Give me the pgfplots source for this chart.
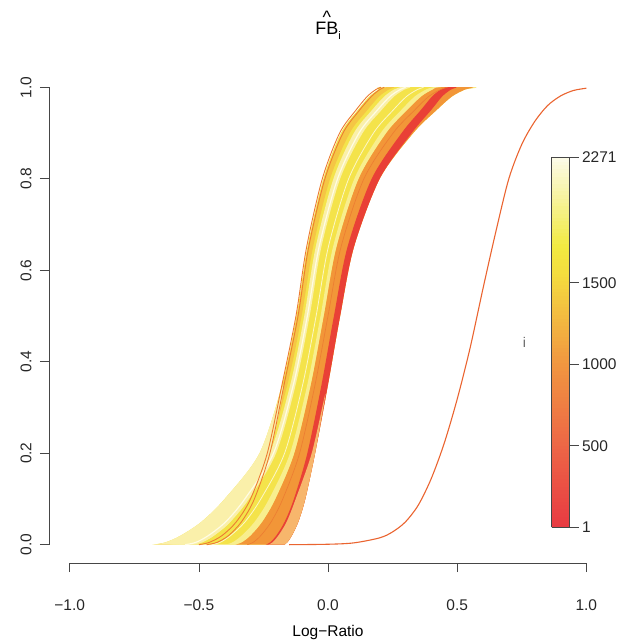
\documentclass[border=0pt]{standalone}
\usepackage{pgfplots}
\pgfplotsset{compat=1.18}
\usepackage{fontspec}
\setmainfont{Liberation Sans}
\definecolor{cBase}{RGB}{244,227,74}
\definecolor{cOY}{RGB}{245,198,68}
\definecolor{cPale}{RGB}{250,240,170}
\definecolor{cPale2}{RGB}{248,238,142}
\definecolor{cOr}{RGB}{242,150,56}
\definecolor{cRed}{RGB}{233,64,54}
\definecolor{cLOr}{RGB}{247,182,108}
\definecolor{cThin}{RGB}{236,124,50}
\definecolor{cWhite}{RGB}{255,252,228}
\definecolor{cLight}{RGB}{252,247,200}
\definecolor{cOut}{RGB}{234,100,48}
\definecolor{axgray}{RGB}{70,70,70}
\newcommand{\FBtitle}{\ooalign{FB\cr\hidewidth\raisebox{0.66em}{\char"5E}\hidewidth\cr}\raisebox{-0.25em}{\fontsize{11}{11}\selectfont i}}
\begin{document}
\begin{tikzpicture}
\path[use as bounding box] (-49pt,-78pt) rectangle (568pt,563pt);
\begin{axis}[
  at={(0pt,0pt)}, anchor=south west,
  scale only axis, width=558pt, height=494pt,
  xmin=-1.08, xmax=1.08, ymin=-0.04, ymax=1.04,
  axis x line*=bottom, axis y line*=left,
  axis line style={-, axgray, line width=0.6pt},
  x axis line style={shorten <=20.67pt, shorten >=20.67pt},
  y axis line style={shorten <=18.3pt, shorten >=18.3pt},
  tick align=outside, major tick length=9pt,
  tick style={axgray, line width=0.6pt},
  xtick={-1,-0.5,0,0.5,1},
  xticklabels={−1.0,−0.5,0.0,0.5,1.0},
  ytick={0,0.2,0.4,0.6,0.8,1},
  yticklabels={0.0,0.2,0.4,0.6,0.8,1.0},
  tick label style={font=\fontsize{15.5}{18}\selectfont, text=black!85},
  xticklabel shift=24pt,
  yticklabel shift=5pt,
  yticklabel style={rotate=90, anchor=south},
  title={\FBtitle},
  title style={font=\fontsize{18}{20}\selectfont, at={(axis description cs:0.5,1)}, anchor=base, yshift=28pt},
  xlabel={Log−Ratio},
  xlabel style={font=\fontsize{15.5}{18}\selectfont, at={(axis description cs:0.5,0)}, anchor=base, yshift=-73pt},
  colormap={heat}{rgb255(0pt)=(232,58,66); rgb255(22pt)=(237,102,70); rgb255(44pt)=(241,150,64); rgb255(60pt)=(243,195,64); rgb255(68pt)=(244,220,62); rgb255(76pt)=(242,234,64); rgb255(88pt)=(246,242,150); rgb255(100pt)=(252,251,234)},
  point meta min=1, point meta max=2271,
  colorbar sampled,
  colorbar style={
    at={(parent axis.south west)}, anchor=south west, xshift=494pt, yshift=36pt,
    scale only axis, width=18pt, height=370pt,
    samples=100,
    ymin=1, ymax=2271,
    ytick={1,500,1000,1500,2271},
    yticklabels={1,500,1000,1500,2271},
    ytick pos=right, yticklabel pos=right,
    ytick align=outside, major tick length=9pt,
    xtick=\empty,
    axis line style={axgray, line width=0.6pt},
    tick style={axgray, line width=0.6pt},
    tick label style={font=\fontsize{15.5}{18}\selectfont, text=black!85},
    ylabel={i},
    ylabel style={rotate=-90, font=\fontsize{14}{16}\selectfont, text=black!60, at={(axis description cs:-1.5,0.5)}, anchor=center},
  },
]
% band base
\addplot[fill=cBase, draw=none, smooth] coordinates {
(-0.680,0) (-0.630,0.005) (-0.570,0.02) (-0.490,0.05) (-0.400,0.1) (-0.265,0.2) (-0.178,0.35) (-0.122,0.5) (-0.080,0.65) (-0.018,0.8) (0.050,0.9) (0.115,0.95) (0.160,0.98) (0.195,0.995) (0.215,1)
(0.560,1) (0.530,0.995) (0.480,0.98) (0.420,0.95) (0.330,0.9) (0.200,0.8) (0.100,0.65) (0.047,0.5) (0.000,0.35) (-0.050,0.2) (-0.088,0.1) (-0.115,0.05) (-0.140,0.02) (-0.158,0.005) (-0.170,0)} -- cycle;
% orange-yellow stripe
\addplot[fill=cOY, draw=none, smooth] coordinates {
(-0.670,0) (-0.621,0.005) (-0.561,0.02) (-0.483,0.05) (-0.394,0.1) (-0.261,0.2) (-0.174,0.35) (-0.119,0.5) (-0.076,0.65) (-0.014,0.8) (0.056,0.9) (0.121,0.95) (0.166,0.98) (0.202,0.995) (0.222,1)
(0.256,1) (0.235,0.995) (0.198,0.98) (0.152,0.95) (0.084,0.9) (0.008,0.8) (-0.058,0.65) (-0.102,0.5) (-0.157,0.35) (-0.239,0.2) (-0.363,0.1) (-0.445,0.05) (-0.518,0.02) (-0.573,0.005) (-0.619,0)} -- cycle;
% pale stripe
\addplot[fill=cPale, draw=none, smooth] coordinates {
(-0.588,0) (-0.545,0.005) (-0.493,0.02) (-0.423,0.05) (-0.344,0.1) (-0.226,0.2) (-0.146,0.35) (-0.092,0.5) (-0.048,0.65) (0.021,0.8) (0.100,0.9) (0.170,0.95) (0.218,0.98) (0.255,0.995) (0.277,1)
(0.319,1) (0.296,0.995) (0.256,0.98) (0.207,0.95) (0.134,0.9) (0.047,0.8) (-0.026,0.65) (-0.071,0.5) (-0.125,0.35) (-0.201,0.2) (-0.306,0.1) (-0.378,0.05) (-0.441,0.02) (-0.488,0.005) (-0.527,0)} -- cycle;
% pale stripe 2
\addplot[fill=cPale2, draw=none, smooth] coordinates {
(-0.400,0) (-0.370,0.005) (-0.334,0.02) (-0.284,0.05) (-0.228,0.1) (-0.147,0.2) (-0.080,0.35) (-0.029,0.5) (0.019,0.65) (0.102,0.8) (0.204,0.9) (0.283,0.95) (0.336,0.98) (0.379,0.995) (0.405,1)
(0.432,1) (0.406,0.995) (0.362,0.98) (0.307,0.95) (0.226,0.9) (0.119,0.8) (0.033,0.65) (-0.016,0.5) (-0.066,0.35) (-0.130,0.2) (-0.203,0.1) (-0.254,0.05) (-0.299,0.02) (-0.333,0.005) (-0.359,0)} -- cycle;
% orange stripe
\addplot[fill=cOr, draw=none, smooth] coordinates {
(-0.359,0) (-0.333,0.005) (-0.299,0.02) (-0.254,0.05) (-0.203,0.1) (-0.130,0.2) (-0.066,0.35) (-0.016,0.5) (0.033,0.65) (0.119,0.8) (0.226,0.9) (0.307,0.95) (0.362,0.98) (0.406,0.995) (0.432,1)
(0.560,1) (0.530,0.995) (0.480,0.98) (0.420,0.95) (0.330,0.9) (0.200,0.8) (0.100,0.65) (0.047,0.5) (0.000,0.35) (-0.050,0.2) (-0.088,0.1) (-0.115,0.05) (-0.140,0.02) (-0.158,0.005) (-0.170,0)} -- cycle;
% red stripe
\addplot[fill=cRed, draw=none, smooth] coordinates {
(-0.241,0) (-0.224,0.005) (-0.200,0.02) (-0.168,0.05) (-0.132,0.1) (-0.080,0.2) (-0.025,0.35) (0.023,0.5) (0.075,0.65) (0.169,0.8) (0.285,0.9) (0.359,0.95) (0.403,0.98) (0.436,0.995) (0.457,1)
(0.498,1) (0.476,0.995) (0.442,0.98) (0.399,0.95) (0.324,0.9) (0.200,0.8) (0.100,0.65) (0.047,0.5) (0.000,0.35) (-0.050,0.2) (-0.088,0.1) (-0.115,0.05) (-0.140,0.02) (-0.158,0.005) (-0.170,0)} -- cycle;
% pale lower-left tails
\addplot[fill=cPale, draw=none, smooth] coordinates {
(-0.680,0) (-0.630,0.005) (-0.570,0.02) (-0.490,0.05) (-0.400,0.1) (-0.265,0.2) (-0.172,0.35) (-0.226,0.2) (-0.322,0.1) (-0.378,0.05) (-0.441,0.02) (-0.488,0.005) (-0.527,0)} -- cycle;
% light orange lower-right tails
\addplot[fill=cLOr, draw=none, smooth] coordinates {
(-0.170,0) (-0.158,0.005) (-0.140,0.02) (-0.115,0.05) (-0.088,0.1) (-0.050,0.2) (-0.010,0.33) (-0.063,0.2) (-0.125,0.1) (-0.160,0.05) (-0.192,0.02) (-0.215,0.005) (-0.231,0)} -- cycle;
% individual curves
\addplot[cWhite, line width=1.2pt, smooth] coordinates {
(-0.553,0) (-0.512,0.005) (-0.463,0.02) (-0.396,0.05) (-0.322,0.1) (-0.211,0.2) (-0.134,0.35) (-0.080,0.5) (-0.035,0.65) (0.037,0.8) (0.120,0.9) (0.191,0.95) (0.240,0.98) (0.279,0.995) (0.301,1)};
\addplot[cLight, line width=0.8pt, smooth] coordinates {
(-0.451,0) (-0.418,0.005) (-0.377,0.02) (-0.321,0.05) (-0.260,0.1) (-0.168,0.2) (-0.098,0.35) (-0.046,0.5) (0.001,0.65) (0.080,0.8) (0.176,0.9) (0.252,0.95) (0.304,0.98) (0.346,0.995) (0.370,1)};
\addplot[cThin, line width=0.6pt, smooth] coordinates {
(-0.313,0) (-0.290,0.005) (-0.260,0.02) (-0.220,0.05) (-0.175,0.1) (-0.110,0.2) (-0.050,0.35) (0.000,0.5) (0.050,0.65) (0.139,0.8) (0.252,0.9) (0.335,0.95) (0.390,0.98) (0.436,0.995) (0.463,1)};
\addplot[cThin, line width=0.9pt, smooth] coordinates {
(-0.50,0) (-0.46,0.005) (-0.41,0.02) (-0.355,0.05) (-0.30,0.1) (-0.235,0.2) (-0.178,0.35) (-0.124,0.5) (-0.083,0.65) (-0.022,0.8) (0.045,0.9) (0.108,0.95) (0.152,0.98) (0.185,0.995) (0.205,1)};
\addplot[cThin, line width=0.9pt, smooth] coordinates {
(-0.47,0) (-0.43,0.005) (-0.385,0.02) (-0.335,0.05) (-0.285,0.1) (-0.225,0.2) (-0.170,0.35) (-0.116,0.5) (-0.075,0.65) (-0.012,0.8) (0.058,0.9) (0.122,0.95) (0.168,0.98) (0.200,0.995) (0.218,1)};
% outlier curve
\addplot[cOut, line width=1.1pt, smooth] coordinates {
(-0.15,0) (0.0,0.001) (0.10,0.004) (0.20,0.015) (0.25,0.028) (0.30,0.050) (0.35,0.087) (0.40,0.145) (0.45,0.222) (0.50,0.318) (0.55,0.430) (0.60,0.560) (0.65,0.685) (0.70,0.800) (0.75,0.875) (0.80,0.925) (0.85,0.960) (0.90,0.981) (0.95,0.993) (1.00,0.998)};
\end{axis}
\end{tikzpicture}
\end{document}
